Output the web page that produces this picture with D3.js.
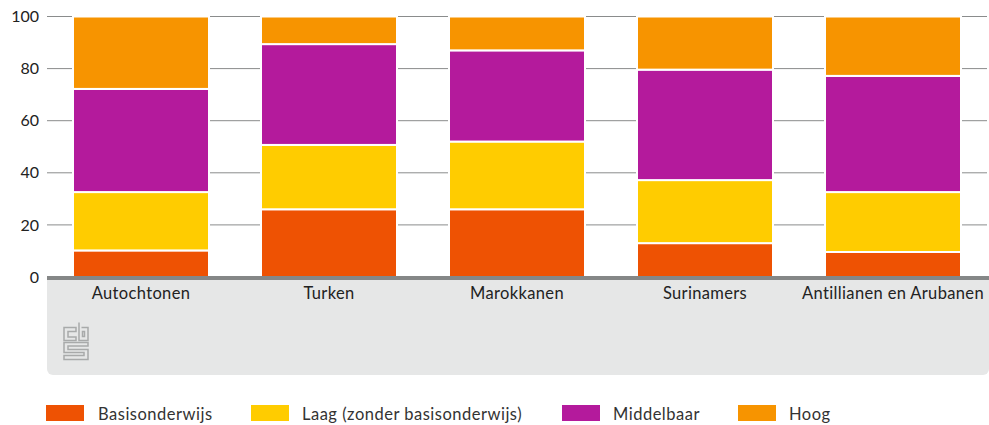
<!DOCTYPE html>
<html lang="nl">
  <head>
    <meta charset="utf-8">
    <title>Opleidingsniveau naar herkomst</title>
    <script src="https://cdn.jsdelivr.net/npm/d3@7"></script>
    <style>
      html, body { margin: 0; padding: 0; background: #fff; }
      svg { display: block; }
      text { font-family: Lato, "Noto Sans", sans-serif; }
    </style>
  </head>
  <body>
    <script>

      var categories = ["Autochtonen", "Turken", "Marokkanen", "Surinamers", "Antillianen en Arubanen"];
      var seriesNames = ["Basisonderwijs", "Laag (zonder basisonderwijs)", "Middelbaar", "Hoog"];
      var basisonderwijs = [10.2, 26, 26, 13, 9.6];
      var laag = [22.4, 24.7, 26, 24.2, 23];
      var middelbaar = [39.6, 38.7, 35, 42.4, 44.6];
      var hoog = [27.8, 10.6, 13, 20.4, 22.8];
      var yTicks = [0, 20, 40, 60, 80, 100];
      var colors = ["#ee5203", "#ffcc00", "#b41a9c", "#f79400"];
      var legendX = [46, 251, 562, 738];

      var w = 989;
      var h = 425;
      var left = 47;
      var right = 987;
      var top0 = 16.5;
      var bottom = 277;

      var rows = categories.map(function(c, i) {
        return {
          cat: c,
          s0: basisonderwijs[i],
          s1: laag[i],
          s2: middelbaar[i],
          s3: hoog[i]
        };
      });

      var stacked = d3.stack().keys(["s0", "s1", "s2", "s3"])(rows);

      var xScale = d3.scaleBand()
                     .domain(categories)
                     .range([left, right])
                     .paddingInner(0.2766)
                     .paddingOuter(0.1383);

      var yScale = d3.scaleLinear()
                     .domain([0, 100])
                     .range([bottom, top0]);

      var mySvg = d3.select("body")
                    .append("svg")
                    .attr("width", w)
                    .attr("height", h);

      // grey panel behind the category labels
      mySvg.append("rect")
           .attr("x", left)
           .attr("y", bottom - 6)
           .attr("width", w - left)
           .attr("height", 375 - bottom + 6)
           .attr("rx", 6)
           .attr("fill", "#e6e7e7");

      mySvg.append("rect")
           .attr("x", 0)
           .attr("y", 0)
           .attr("width", w)
           .attr("height", bottom)
           .attr("fill", "#fff");

      // gridlines
      mySvg.selectAll(".grid")
           .data(yTicks.filter(function(d) { return d > 0; }))
           .enter()
           .append("line")
           .attr("class", "grid")
           .attr("x1", left)
           .attr("x2", right)
           .attr("y1", function(d) { return yScale(d); })
           .attr("y2", function(d) { return yScale(d); })
           .attr("stroke", "#8a8c8c")
           .attr("stroke-width", 1);

      // y axis labels
      var yAxis = d3.axisLeft(yScale).tickValues(yTicks).tickSize(0).tickPadding(8);
      var yG = mySvg.append("g")
                    .attr("transform", "translate(" + left + ",0)")
                    .call(yAxis);
      yG.select(".domain").remove();
      yG.selectAll("text")
        .attr("font-size", 16)
        .attr("fill", "#222")
        .style("font-family", "Lato, sans-serif");

      // bars
      mySvg.selectAll(".layer")
           .data(stacked)
           .enter()
           .append("g")
           .attr("class", "layer")
           .attr("fill", function(d, i) { return colors[i]; })
           .selectAll("rect")
           .data(function(d) { return d; })
           .enter()
           .append("rect")
           .attr("x", function(d) { return xScale(d.data.cat); })
           .attr("y", function(d) { return yScale(d[1]); })
           .attr("width", xScale.bandwidth())
           .attr("height", function(d) { return yScale(d[0]) - yScale(d[1]); })
           .attr("stroke", "#fff")
           .attr("stroke-width", 2);

      // baseline
      mySvg.append("rect")
           .attr("x", left)
           .attr("y", bottom - 1)
           .attr("width", w - left)
           .attr("height", 4)
           .attr("fill", "#858787");

      // category labels
      var xAxis = d3.axisBottom(xScale).tickSize(0).tickPadding(9);
      var xG = mySvg.append("g")
                    .attr("transform", "translate(0," + (bottom + 1) + ")")
                    .call(xAxis);
      xG.select(".domain").remove();
      xG.selectAll("text")
        .attr("font-size", 16.5)
        .attr("fill", "#222")
        .style("letter-spacing", "0.35px")
        .style("font-family", "Lato, sans-serif");

      // cbs logo
      var logo = mySvg.append("g")
                      .attr("transform", "translate(63,322)")
                      .attr("fill", "none")
                      .attr("stroke", "#a8aaaa")
                      .attr("stroke-width", 1.5);
      logo.append("path").attr("d", "M13 5.5H1V18.5H13V15H5V9.5H13Z");
      logo.append("path").attr("d", "M16 0.5V18.5H25V5.5H18.5M19.5 9.5V14.5H21.5V9.5Z");
      logo.append("path").attr("d", "M25 20.5H1V30.5H21V33.5H1V37.5H25V27.5H5V24H25Z");

      // legend
      var legend = mySvg.selectAll(".legend")
                        .data(seriesNames)
                        .enter()
                        .append("g")
                        .attr("class", "legend")
                        .attr("transform", function(d, i) {
                          return "translate(" + legendX[i] + ",405)";
                        });

      legend.append("rect")
            .attr("width", 38)
            .attr("height", 16)
            .attr("fill", function(d, i) { return colors[i]; });

      legend.append("text")
            .text(function(d) { return d; })
            .attr("x", function(d, i) { return i === 0 ? 52 : 51; })
            .attr("y", 15)
            .attr("font-size", 16.5)
            .style("letter-spacing", "0.5px")
            .attr("fill", "#333");

    </script>
  </body>
</html>
